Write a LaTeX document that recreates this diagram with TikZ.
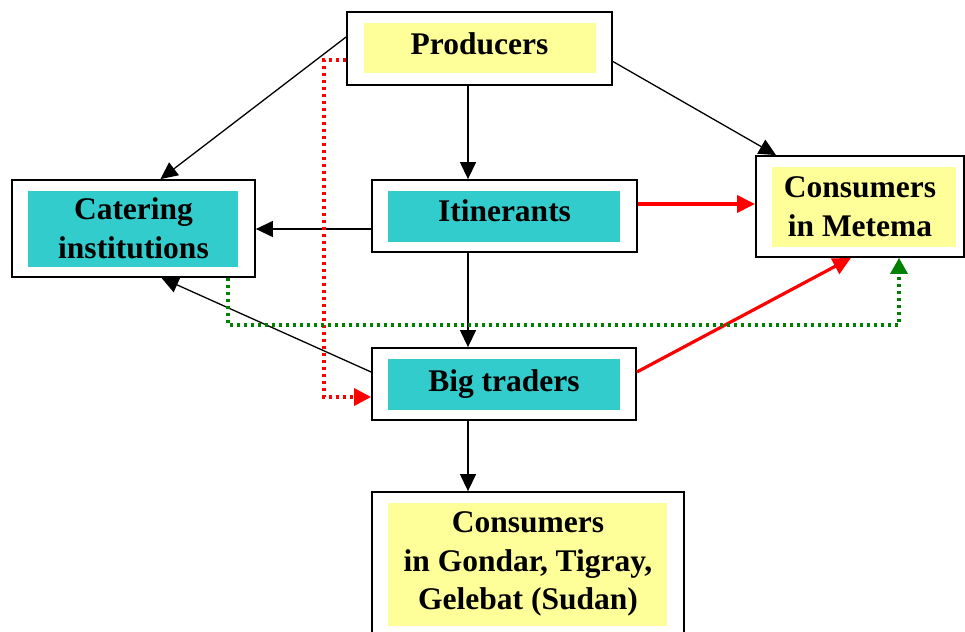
\documentclass[tikz,border=0pt]{standalone}
\usepackage{fontspec}
\setmainfont{Liberation Serif}
\usetikzlibrary{arrows.meta,calc}
\definecolor{tealbox}{RGB}{51,204,204}
\definecolor{yelbox}{RGB}{255,255,153}
\definecolor{grn}{RGB}{0,128,0}
\definecolor{rd}{RGB}{255,0,0}
\begin{document}
\begin{tikzpicture}[x=1pt,y=-1pt,
  outerbox/.style={draw, line width=1.8pt, inner sep=0pt, align=center,
    font=\bfseries\fontsize{31.5}{38.5}\selectfont},
  arr/.style={line width=1.3pt, -{Triangle[length=17pt,width=16pt]}},
  redarr/.style={draw=rd, line width=3.2pt, -{Triangle[length=18pt,width=17pt]}},
  reddot/.style={draw=rd, line width=3.4pt, dash pattern=on 3.5pt off 3.5pt, -{Triangle[length=17pt,width=17pt]}},
  grndot/.style={draw=grn, line width=3.4pt, dash pattern=on 3.5pt off 3.5pt, -{Triangle[length=16pt,width=17pt]}}]
\useasboundingbox (0,0) rectangle (965,631);
% inner fills
\fill[yelbox] (364,23) rectangle (596,73);
\fill[tealbox] (28,191) rectangle (238,267);
\fill[tealbox] (388,191) rectangle (620,242);
\fill[yelbox] (772,167) rectangle (956,247);
\fill[tealbox] (388,359) rectangle (620,410);
\fill[yelbox] (388,503) rectangle (667,626);
% boxes
\node[outerbox, minimum width=265pt, minimum height=73pt] (prod) at (479.5,48.5) {\raisebox{9pt}{Producers}};
\node[outerbox, minimum width=243pt, minimum height=97pt] (cat) at (133.5,228.5) {Catering\\institutions};
\node[outerbox, minimum width=265pt, minimum height=72pt] (itin) at (504.5,216) {\raisebox{10pt}{Itinerants}};
\node[outerbox, minimum width=208pt, minimum height=101pt] (met) at (860,206.5) {Consumers\\in Metema};
\node[outerbox, minimum width=264pt, minimum height=72pt] (big) at (504,384) {\raisebox{7pt}{Big traders}};
\node[outerbox, minimum width=312pt, minimum height=144pt] (gon) at (528,564) {Consumers\\in Gondar, Tigray,\\Gelebat (Sudan)};
% lanes
\coordinate (lane) at (468,0);
\coordinate (rc1) at (324,60);
\coordinate (rc2) at (324,397);
\coordinate (gc1) at (228,325);
\coordinate (gc2) at (899,325);
% black arrows
\draw[arr] ([yshift=11.5pt]prod.west) -- ([xshift=27pt]cat.north);
\draw[arr] (prod.south -| lane) -- (itin.north -| lane);
\draw[arr] ([yshift=-13pt]prod.east) -- ([xshift=-84pt]met.north);
\draw[arr] ([yshift=-13pt]itin.west) -- ([yshift=-13pt]itin.west -| cat.east);
\draw[arr] (itin.south -| lane) -- (big.north -| lane);
\draw[arr] ([yshift=12pt]big.west) -- ([xshift=28pt]cat.south);
\draw[arr] (big.south -| lane) -- (gon.north -| lane);
% red arrows
\draw[redarr] ([yshift=12pt]itin.east) -- ([yshift=12pt]itin.east -| met.west);
\draw[redarr] ([yshift=12pt]big.east) -- ([xshift=-9pt]met.south);
% dotted
\draw[reddot] ([yshift=-11.5pt]prod.west) -- (rc1) -- (rc2) -- ([yshift=-13pt]big.west);
\draw[grndot] (cat.south -| gc1) -- (gc1) -- (gc2) -- (met.south -| gc2);
\end{tikzpicture}
\end{document}
